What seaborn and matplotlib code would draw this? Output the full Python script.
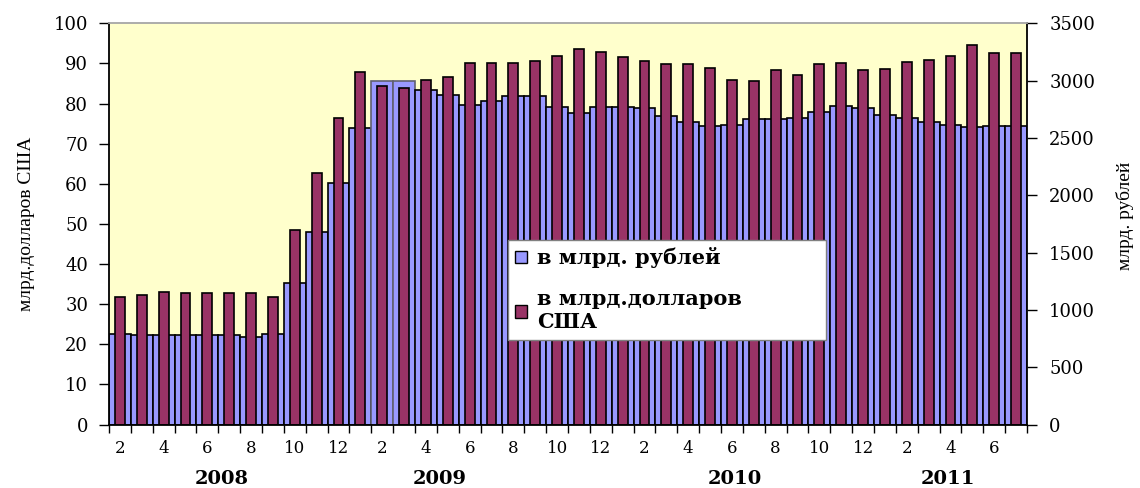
import numpy as np
import pandas as pd
import matplotlib
matplotlib.use('Agg')
import matplotlib.pyplot as plt
import seaborn as sns
from matplotlib.patches import Patch

# months Feb 2008 .. Jul 2011
months = pd.date_range('2008-02-01', periods=42, freq='MS')

# bn US dollars (left axis)
usd_bn = [31.9, 32.2, 33.0, 32.7, 32.7, 32.7, 32.7, 31.9, 48.6, 62.8, 76.5,
          87.9, 84.4, 83.8, 85.9, 86.5, 90.0, 90.0, 90.0, 90.6, 91.8, 93.5,
          92.9, 91.5, 90.6, 89.8, 89.8, 88.8, 85.9, 85.6, 88.3, 87.1, 89.8,
          90.0, 88.3, 88.6, 90.4, 90.9, 91.8, 94.5, 92.7, 92.7]

# bn roubles (right axis)
rub_bn = [788, 777, 777, 777, 777, 777, 767, 788, 1232, 1677, 2107,
          2583, 2993, 2993, 2916, 2870, 2786, 2821, 2863, 2863, 2769, 2716,
          2769, 2769, 2758, 2688, 2636, 2604, 2615, 2667, 2667, 2678, 2730,
          2779, 2765, 2699, 2678, 2636, 2615, 2594, 2604, 2604]

years = ['2008', '2009', '2010', '2011']

df = pd.DataFrame({'month': months.strftime('%Y-%m'), 'usd': usd_bn, 'rub': rub_bn})

plt.rcParams['font.family'] = 'DejaVu Serif'

fig = plt.figure(figsize=(11.4, 4.88), dpi=100)
ax1 = fig.add_axes([0.0956, 0.1301, 0.8053, 0.8222])
ax2 = ax1.twinx()

sns.barplot(data=df, x='month', y='rub', ax=ax2, color='#9999ff', width=1.0,
            saturation=1, edgecolor='black', linewidth=1.2, errorbar=None)
sns.barplot(data=df, x='month', y='usd', ax=ax1, color='#993366', width=0.45,
            saturation=1, edgecolor='black', linewidth=1.2, errorbar=None)

# the two highlighted blue bars (Feb-Mar 2009)
for i in [12, 13]:
    ax2.patches[i].set_edgecolor('#606070')

# red bars drawn above the blue ones
ax1.set_zorder(ax2.get_zorder() + 1)
ax1.patch.set_visible(False)
ax2.patch.set_visible(True)
ax2.patch.set_facecolor('#ffffcc')

ax1.set_xlim(-0.5, len(months) - 0.5)
ax1.set_ylim(0, 100)
ax2.set_ylim(0, 3500)
ax1.set_yticks(range(0, 101, 10))
ax2.set_yticks(range(0, 3501, 500))

# ticks on category boundaries, labels on even months
ax1.set_xticks(np.arange(-0.5, len(months), 1))
ax1.set_xticklabels([])
even = [i for i, m in enumerate(months) if m.month % 2 == 0]
ax1.set_xticks(even, minor=True)
ax1.set_xticklabels([str(months[i].month) for i in even], minor=True)
ax1.set_xlabel('')
ax2.set_xlabel('')
ax2.tick_params(axis='x', which='both', bottom=False, top=False, labelbottom=False)

ax1.tick_params(axis='x', which='major', length=6, width=1, color='black')
ax1.tick_params(axis='x', which='minor', length=0, pad=11, labelsize=12)
ax1.tick_params(axis='y', length=7, width=1, pad=8, labelsize=13)
ax2.tick_params(axis='y', length=7, width=1, pad=9, labelsize=13)

for s in ax2.spines.values():
    s.set_visible(False)
for k in ['left', 'bottom', 'right']:
    ax1.spines[k].set_color('black')
    ax1.spines[k].set_linewidth(1.3)
ax1.spines['top'].set_color('#a6a6a6')
ax1.spines['top'].set_linewidth(1.3)

ax1.set_ylabel('млрд.долларов США', family='Liberation Serif', fontsize=14)
ax1.yaxis.set_label_coords(-0.081, 0.5)
ax2.set_ylabel('млрд. рублей', family='Liberation Serif', fontsize=14)
ax2.yaxis.set_label_coords(1.097, 0.52)

# year captions under the month labels
year_x = [4.67, 14.64, 28.14, 37.88]
for y, x in zip(years, year_x):
    ax1.text(x, -0.136, y, transform=ax1.get_xaxis_transform(), ha='center',
             va='center', fontsize=14, fontweight='bold')

handles = [Patch(facecolor='#9999ff', edgecolor='black', label='в млрд. рублей'),
           Patch(facecolor='#993366', edgecolor='black', label='в млрд.долларов\nСША')]
leg = ax1.legend(handles=handles, loc='upper left',
                 bbox_to_anchor=(508 / 1140, 1 - 240 / 488, 318 / 1140, 0),
                 bbox_transform=fig.transFigure, mode='expand', frameon=True,
                 fancybox=False, edgecolor='#808080', framealpha=1,
                 prop=dict(family='DejaVu Serif', weight='bold', size=15),
                 handlelength=0.55, handleheight=0.55, handletextpad=0.5,
                 labelspacing=1.0, borderpad=0.35, borderaxespad=0)
leg.get_frame().set_linewidth(1.0)

fig.savefig('out.png', dpi=100)
